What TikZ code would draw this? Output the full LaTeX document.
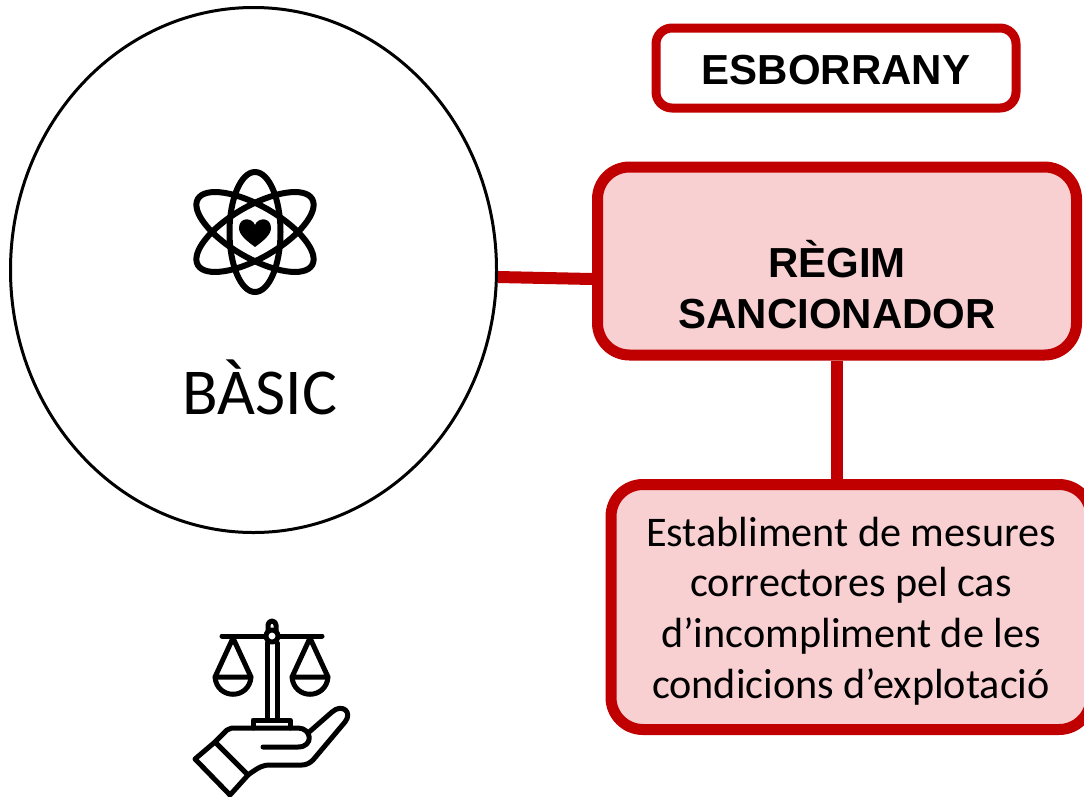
\documentclass[tikz,border=0pt]{standalone}
\usepackage{fontspec}
\setmainfont{Carlito}
\newfontfamily\arialfont{Liberation Sans}
\usetikzlibrary{shapes.geometric, positioning}
\definecolor{darkred}{RGB}{192,0,0}
\definecolor{softred}{RGB}{248,208,210}

\begin{document}
\begin{tikzpicture}[x=1pt,y=-1pt,align=center]
\tikzstyle{circlebox}=[ellipse,draw=black,line width=3pt,minimum width=486pt,minimum height=525pt,inner sep=0pt]
\tikzstyle{redbox}=[rectangle,rounded corners=32pt,draw=darkred,fill=softred,line width=11pt,inner sep=0pt]
\tikzstyle{link}=[-,draw=darkred,line width=12pt]
\tikzstyle{icon}=[line width=5pt,line join=round,line cap=round]
\tikzstyle{heading}=[font=\arialfont\bfseries\fontsize{42}{51}\selectfont]
\tikzstyle{bodytext}=[font=\fontsize{42.2}{50.6}\selectfont]

\useasboundingbox (0,0) rectangle (1084,796);

\node[circlebox] (basic) at (253.5,270) {};
\node[redbox, rounded corners=16pt, fill=white, line width=9pt, minimum width=360pt, minimum height=80pt] (draft) at (836,68) {};
\node[redbox, minimum width=479pt, minimum height=188pt] (regim) at (837,261) {};
\node[redbox, minimum width=480pt, minimum height=245pt] (mesures) at (851,607) {};

\node[heading] (drafttext) at (836,70) {ESBORRANY};
\node[heading] (regimtext) at (837,285) {RÈGIM\\SANCIONADOR};
\node[bodytext] (mesurestext) at (851,611) {Establiment de mesures\\correctores pel cas\\d’incompliment de les\\condicions d’explotació};
\node[font=\fontsize{65.5}{70}\selectfont] (basiclabel) at (260,387) {BÀSIC};

\path
	(basic.east |- 0,277) edge [link] (regim.west |- 0,279)
	(regim.south -| 837,0) edge [link] (mesures.north -| 837,0);

% atom
\draw[line width=6pt] (255,232) ellipse (25.5pt and 60pt);
\foreach \angle in {60,-60}
  \draw[line width=6pt, rotate around={\angle:(255,232)}] (255,232) ellipse (26pt and 66pt);
\fill (255,247) .. controls (247,241) and (239,235) .. (239,228) .. controls (239,217) and (252,217) .. (255,225) .. controls (258,217) and (271,217) .. (271,228) .. controls (271,235) and (263,241) .. (255,247) -- cycle;

% scales
\draw[icon] (222,636) -- (322,636);
\draw[icon] (268,631) -- (268,625) arc (180:0:4pt) -- (276,631);
\draw[icon,fill=white] (272,636) circle (6pt);
\draw[icon] (267,643) -- (267,720) (277,643) -- (277,720);
\draw[icon] (253,728) -- (253,720) -- (290,720) -- (290,728);
\draw[icon] (233,638) -- (215,677) -- (251,677) -- cycle;
\draw[icon] (215,677) .. controls (217,700) and (249,700) .. (251,677);
\draw[icon] (310,638) -- (292,677) -- (328,677) -- cycle;
\draw[icon] (292,677) .. controls (294,700) and (326,700) .. (328,677);

% hand
\draw[icon] (195,759) -- (215,742) -- (248,775) -- (230,795) -- cycle;
\draw[icon] (215,742) -- (227,730) .. controls (230,728) and (232,728) .. (236,728) -- (298,728) .. controls (312,728) and (314,747) .. (298,747) -- (263,747);
\draw[icon] (308,733) -- (332,712) .. controls (342,703) and (353,712) .. (345,722) -- (313,760) .. controls (310,763) and (306,765) .. (302,765) -- (270,765) .. controls (264,765) and (260,766) .. (248,775);
\end{tikzpicture}
\end{document}
